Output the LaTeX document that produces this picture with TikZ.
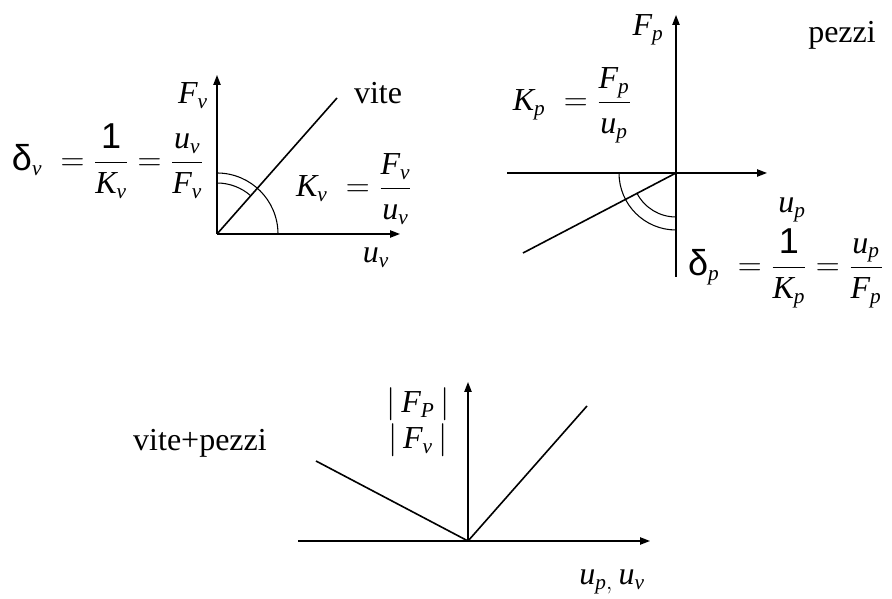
\documentclass[tikz,border=0pt]{standalone}
\usepackage{amsmath}
\usepackage{fontspec}
\setmainfont{Liberation Serif}
\newfontfamily\sansfont{Liberation Sans}
\usetikzlibrary{arrows.meta,positioning}
\DeclareMathSizes{24}{24}{16}{12}
\newcommand{\vr}[1]{\textit{#1}}
\newcommand{\sn}[1]{\text{\sansfont #1}}
\newcommand{\bigdelta}{\text{\sansfont\fontsize{27}{27}\selectfont δ}}

\begin{document}
\begin{tikzpicture}[x=0.75pt,y=0.75pt,line width=1pt,
  axis/.style={-{Triangle[length=7.5pt,width=5.5pt]}},
  curve/.style={line width=1.2pt},
  angarc/.style={line width=0.8pt},
  lbl/.style={font=\fontsize{24}{29}\selectfont,inner sep=1pt}]
\useasboundingbox (0,0) rectangle (892,599);
% vite
\coordinate (Ov) at (217,365);
\coordinate (vtop) at (217,524);
\coordinate (vright) at (400,365);
\coordinate (vend) at (337,501);
\draw[axis] (Ov) -- (vtop);
\draw[axis] (Ov) -- (vright);
\draw[curve] (Ov) -- (vend);
\draw[angarc] ([yshift=61*0.75pt]Ov) arc[start angle=90,end angle=0,radius=61];
\draw[angarc] ([yshift=51*0.75pt]Ov) arc[start angle=90,end angle=48.6,radius=51];
\node[lbl] (Fv) at (193,503) {$\vr{F}_{\vr{v}}$};
\node[lbl] (vite) at (378,506) {vite};
\node[lbl,anchor=west] (deltav) at (10,438)
  {$\bigdelta_{\vr{v}}\;=\dfrac{\sn{\fontsize{27}{27}\selectfont 1}}{\vr{K}_{\vr{v}}}=\dfrac{\vr{u}_{\vr{v}}}{\vr{F}_{\vr{v}}}$};
\node[lbl] (Kv) at (354,410) {$\vr{K}_{\vr{v}}\;=\dfrac{\vr{F}_{\vr{v}}}{\vr{u}_{\vr{v}}}$};
\node[lbl] (uv) at (376,341) {$\vr{u}_{\vr{v}}$};
% pezzi
\coordinate (Op) at (676,426);
\coordinate (pbot) at (676,322);
\coordinate (ptop) at (676,584);
\coordinate (pleft) at (507,426);
\coordinate (pright) at (767,426);
\coordinate (pend) at (523,346);
\draw[axis] (pbot) -- (ptop);
\draw[axis] (pleft) -- (pright);
\draw[curve] (Op) -- (pend);
\draw[angarc] ([xshift=-57*0.75pt]Op) arc[start angle=180,end angle=270,radius=57];
\draw[angarc] ([shift={(207.6:44)}]Op) arc[start angle=207.6,end angle=270,radius=44];
\node[lbl] (Fp) at (648,569) {$\vr{F}_{\vr{p}}$};
\node[lbl] (pezzi) at (842,564) {pezzi};
\node[lbl] (Kp) at (572,494) {$\vr{K}_{\vr{p}}\;=\dfrac{\vr{F}_{\vr{p}}}{\vr{u}_{\vr{p}}}$};
\node[lbl] (up) at (792,389) {$\vr{u}_{\vr{p}}$};
\node[lbl,anchor=west] (deltap) at (686,331)
  {$\bigdelta_{\vr{p}}\;=\dfrac{\sn{\fontsize{27}{27}\selectfont 1}}{\vr{K}_{\vr{p}}}=\dfrac{\vr{u}_{\vr{p}}}{\vr{F}_{\vr{p}}}$};
% vite+pezzi
\coordinate (Ob) at (468,58);
\coordinate (bleft) at (298,58);
\coordinate (bright) at (650,58);
\coordinate (btop) at (468,217);
\coordinate (bvite) at (587,193);
\coordinate (bpezzi) at (316,138);
\draw[axis] (bleft) -- (bright);
\draw[axis] (Ob) -- (btop);
\draw[curve] (Ob) -- (bvite);
\draw[curve] (Ob) -- (bpezzi);
\node[lbl,inner sep=0pt] (FPabs) at (418,195) {$|\,\vr{F}_{\vr{P}}\,|$};
\node[lbl,inner sep=0pt,below=1pt of FPabs] (Fvabs) {$|\,\vr{F}_{\vr{v}}\,|$};
\node[lbl] (both) at (200,156) {vite+pezzi};
\node[lbl] (upv) at (612,17) {$\vr{u}_{\vr{p},}\,\vr{u}_{\vr{v}}$};
\end{tikzpicture}
\end{document}
